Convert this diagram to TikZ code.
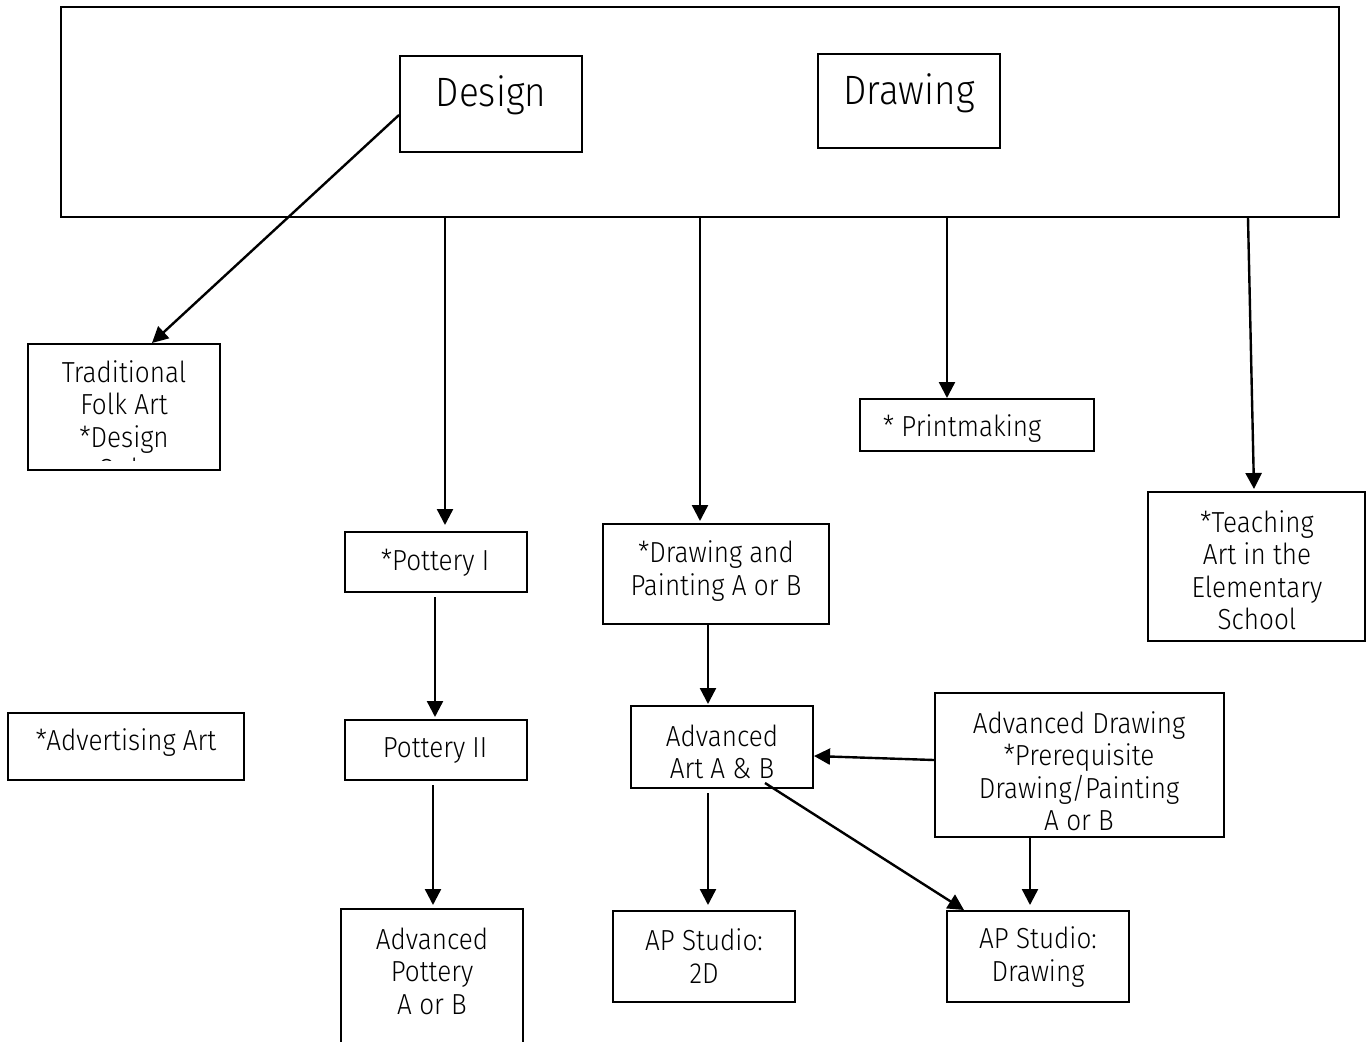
\documentclass[tikz,border=0pt]{standalone}
\usepackage{fontspec}
\setmainfont{Fira Sans Light}[FakeStretch=0.9]
\usetikzlibrary{arrows.meta,calc}
\begin{document}
\begin{tikzpicture}[x=1pt,y=-1pt,
  box/.style={draw,line width=2pt,inner sep=0pt},
  txt/.style={align=center,font=\fontsize{29}{32.5}\selectfont,inner sep=0pt},
  bigtxt/.style={align=center,font=\fontsize{41}{44}\selectfont,inner sep=0pt},
  arr/.style={line width=2.4pt,-{Triangle[length=16pt,width=16pt]}}]
\useasboundingbox (0,0) rectangle (1369,1042);
% boxes
\node[box,minimum width=1278pt,minimum height=210pt] (big) at (700,112) {};
\node[box,minimum width=182pt,minimum height=96pt] (design) at (491,104) {};
\node[box,minimum width=182pt,minimum height=94pt] (drawing) at (909,101) {};
\node[box,minimum width=192pt,minimum height=126pt] (trad) at (124,407) {};
\node[box,minimum width=182pt,minimum height=60pt] (pot1) at (436,562) {};
\node[box,minimum width=182pt,minimum height=60pt] (pot2) at (436,750) {};
\node[box,minimum width=182pt,minimum height=171pt] (advpot) at (432,994.5) {};
\node[box,minimum width=226pt,minimum height=100pt] (dp) at (716,574) {};
\node[box,minimum width=182pt,minimum height=82pt] (advart) at (722,747) {};
\node[box,minimum width=289pt,minimum height=144pt] (advdraw) at (1079.5,765) {};
\node[box,minimum width=182pt,minimum height=91pt] (ap2d) at (704,956.5) {};
\node[box,minimum width=182pt,minimum height=91pt] (apdraw) at (1038,956.5) {};
\node[box,minimum width=234pt,minimum height=52pt] (print) at (977,425) {};
\node[box,minimum width=217pt,minimum height=149pt] (teach) at (1256.5,566.5) {};
\node[box,minimum width=236pt,minimum height=67pt] (advert) at (126,746.5) {};
% texts
\node[bigtxt] (tdesign) at (491,95) {Design};
\node[bigtxt] (tdrawing) at (909,93) {Drawing};
\begin{scope}
  \clip (28,344) rectangle (220,460);
  \node[txt] (ttrad) at (124,423) {Traditional\\Folk Art\\*Design\\Only};
\end{scope}
\node[txt] (tpot1) at (435,563) {*Pottery I};
\node[txt] (tpot2) at (435,751) {Pottery II};
\node[txt] (tadvpot) at (432,971) {Advanced\\Pottery\\A or B};
\node[txt] (tdp) at (716,571) {*Drawing and\\Painting A or B};
\node[txt] (tadvart) at (722,752) {Advanced\\Art A \& B};
\node[txt] (tadvdraw) at (1079,771) {Advanced Drawing\\*Prerequisite\\Drawing/Painting\\A or B};
\node[txt] (tap2d) at (704,956) {AP Studio:\\2D};
\node[txt] (tapdraw) at (1038,957) {AP Studio:\\Drawing};
\node[txt] (tprint) at (962,429) {* Printmaking};
\node[txt] (tteach) at (1257,570) {*Teaching\\Art in the\\Elementary\\School};
\node[txt] (tadvert) at (126,743) {*Advertising Art};
% connectors
\draw[arr] ([yshift=-11pt]design.west) -- ([xshift=28pt]trad.north);
\draw[arr] ([xshift=-255pt]big.south) -- ([xshift=9pt,yshift=6pt]pot1.north);
\draw[arr] (big.south) -- ([xshift=-16pt,yshift=2pt]dp.north);
\draw[arr] ([xshift=247pt]big.south) -- ([xshift=-30pt]print.north);
\draw[arr] ([xshift=548pt]big.south) -- ([xshift=-2.5pt,yshift=2pt]teach.north);
\draw[arr] ([xshift=-1pt,yshift=-4pt]pot1.south) -- ([xshift=-1pt,yshift=2pt]pot2.north);
\draw[arr] ([xshift=-3pt,yshift=-4pt]pot2.south) -- ([xshift=1pt,yshift=3pt]advpot.north);
\draw[arr] ([xshift=-8pt]dp.south) -- ([xshift=-14pt,yshift=1pt]advart.north);
\draw[arr] ([yshift=5pt]advdraw.west) -- ([yshift=-9pt]advart.east);
\draw[arr] ([xshift=-14pt,yshift=-4pt]advart.south) -- ([xshift=4pt,yshift=5pt]ap2d.north);
\draw[arr] ([xshift=43pt,yshift=6pt]advart.south) -- ([xshift=18pt]apdraw.north west);
\draw[arr] ([xshift=-49.5pt]advdraw.south) -- ([xshift=-8pt,yshift=5pt]apdraw.north);
\end{tikzpicture}
\end{document}
